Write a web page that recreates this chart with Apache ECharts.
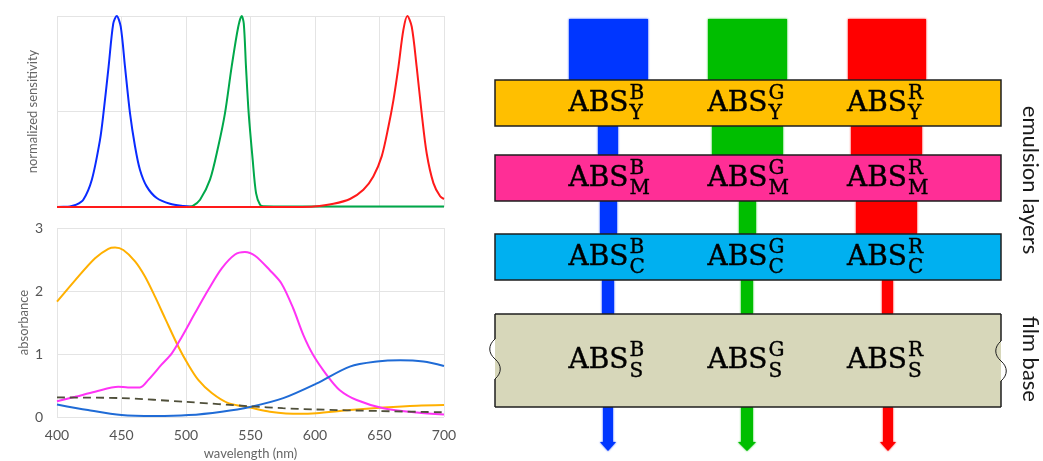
<!DOCTYPE html>
<html><head><meta charset="utf-8">
<script src="https://cdn.jsdelivr.net/npm/echarts@6/dist/echarts.min.js"></script>
<style>html,body{margin:0;padding:0;background:#fff}#c{width:1043px;height:461px}</style>
</head><body><div id="c"></div>
<script>
// ---- data ----
const wlTicks = [400, 450, 500, 550, 600, 650, 700];
const absTicks = [0, 1, 2, 3];

// top panel: normalized sensitivity
const sensWlBlue = [400,405,410,415,420.4,427,433.3,436,440,443.6,446.3,449.4,452.7,456.6,460.5,464.3,469.5,477.3,487.6,498,505];
const sensBlue   = [0,0.001,0.003,0.012,0.038,0.143,0.35,0.49,0.735,0.96,1.0,0.944,0.735,0.49,0.317,0.195,0.108,0.047,0.017,0.005,0.001];
const sensWlGreen = [500,505,510.9,518.6,525,530.2,535.4,540.5,543.2,544.8,546.5,548.6,551.7,554.3,557.4,560,580,700];
const sensGreen   = [0,0.005,0.038,0.143,0.317,0.49,0.735,0.944,1.0,0.96,0.735,0.49,0.247,0.073,0.012,0.004,0.003,0.003];
const sensWlRed = [400,500,590,599,614.3,627.1,637.5,645.2,651.7,656.9,660.8,664.7,668.5,671.6,675,678.8,682.7,686.6,691.8,697,700];
const sensRed   = [0,0,0,0.002,0.017,0.042,0.09,0.16,0.265,0.42,0.56,0.735,0.927,1.0,0.944,0.735,0.49,0.28,0.125,0.056,0.042];

// bottom panel: absorbance
const absWlYellow = [400,414,429.5,439.8,445,451.4,460.5,468.2,476,483.7,494,501.8,509.5,520,532.8,549.6,565,588,601,627,653,679,700];
const absYellow   = [1.83,2.17,2.52,2.67,2.69,2.65,2.47,2.23,1.91,1.57,1.12,0.83,0.59,0.38,0.22,0.15,0.085,0.05,0.06,0.11,0.15,0.18,0.19];
const absWlMagenta = [400,414,429.5,447.5,455,464.3,470.8,481,489,496.7,507,517.3,527.7,538,545.7,553.5,565,574,583,591,598.7,609,619,632.3,653,679,700];
const absMagenta   = [0.25,0.32,0.40,0.48,0.47,0.47,0.59,0.83,1.01,1.27,1.65,2.02,2.36,2.58,2.62,2.56,2.33,2.12,1.73,1.30,0.98,0.67,0.43,0.27,0.14,0.07,0.04];
const absWlCyan = [400,424,450,476,502,527.7,549.6,575.4,601,627,648,666,684,700];
const absCyan   = [0.20,0.11,0.03,0.015,0.03,0.085,0.16,0.30,0.53,0.80,0.88,0.90,0.88,0.81];
const absWlBase = [400,450,500,550,575,600,650,700];
const absBase   = [0.31,0.30,0.24,0.17,0.14,0.12,0.095,0.075];

// diagram labels
const channels = ['B', 'G', 'R'];
const layerSubs = ['Y', 'M', 'C', 'S'];
const sideLabels = ['emulsion layers', 'film base'];

// ---- helpers ----
const zip = (xs, ys) => xs.map((x, i) => [x, ys[i]]);
const chart = echarts.init(document.getElementById('c'), null, {renderer: 'canvas'});
const FONT = 'Lato, "Open Sans", sans-serif';
const gridLine = {show: true, lineStyle: {color: '#e4e4e4', width: 1}};

function lineSeries(name, xi, yi, data, color, extra) {
  return Object.assign({
    name, type: 'line', xAxisIndex: xi, yAxisIndex: yi, data,
    smooth: 0.3, showSymbol: false, symbol: 'none',
    lineStyle: {color, width: 2}, z: 3
  }, extra || {});
}

// ---- diagram graphics ----
const colCenters = [608.5, 747.5, 887];
const bandColors = ['#0036FF', '#00BE00', '#FF0000'];
const bandX = [
  [[569,648],[598,618],[600,617],[602,614]],
  [[708,787],[712,783],[739,756],[741,753]],
  [[848,926],[851,922],[856,917],[882,893]]
];
const gapY = [[19,80],[126,155],[201,234],[280,314]];
const arrowX = [[603,613],[741,753],[883,893]];
const layers = [
  {y: 80, h: 46, fill: '#FFBF00'},
  {y: 155, h: 46, fill: '#FF2E96'},
  {y: 234, h: 46, fill: '#00B0F0'},
  {y: 314, h: 93, fill: '#D7D7BA'}
];
const LX0 = 495, LX1 = 1001;
const g = [];
bandColors.forEach((c, ci) => {
  bandX[ci].forEach((xr, gi) => {
    g.push({type: 'rect', shape: {x: xr[0], y: gapY[gi][0], width: xr[1]-xr[0], height: gapY[gi][1]-gapY[gi][0]},
      style: {fill: c, shadowBlur: 2, shadowColor: c}, z: 1});
  });
  const a = arrowX[ci];
  const cx = (a[0]+a[1])/2;
  g.push({type: 'polygon', shape: {points: [[a[0],407],[a[1],407],[a[1],442],[a[1]+3,442],[cx,451],[a[0]-3,442],[a[0],442]]},
    style: {fill: c, shadowBlur: 2, shadowColor: c}, z: 1});
});
const serifMain = '28px "DejaVu Serif", serif';
const serifSmall = '20px "DejaVu Serif", serif';
layers.forEach((L, li) => {
  const isBase = li === 3;
  g.push({type: 'rect', shape: {x: LX0, y: L.y, width: LX1-LX0, height: L.h},
    style: {fill: L.fill, stroke: isBase ? null : '#1e1e1e', lineWidth: 1.5}, z: 2});
  const cy = L.y + L.h/2;
  channels.forEach((ch, ci) => {
    const cx = colCenters[ci];
    const txt = (text, x, y, font, align) => ({type: 'text', x, y, z: 5,
      style: {text, font, fill: '#000', stroke: '#000', lineWidth: 0.4,
        align, textAlign: align, verticalAlign: 'middle', textVerticalAlign: 'middle'}});
    g.push(txt('ABS', cx + 20, cy + 0.5, serifMain, 'right'));
    g.push(txt(ch, cx + 21, cy - 9.5, serifSmall, 'left'));
    g.push(txt(layerSubs[li], cx + 21, cy + 11, serifSmall, 'left'));
  });
});
// film base borders with wave breaks
const bStroke = {stroke: '#1e1e1e', lineWidth: 1.5, fill: null};
g.push({type: 'line', shape: {x1: LX0, y1: 314, x2: LX1, y2: 314}, style: bStroke, z: 3});
g.push({type: 'line', shape: {x1: LX0, y1: 407, x2: LX1, y2: 407}, style: bStroke, z: 3});
g.push({type: 'line', shape: {x1: LX0, y1: 314, x2: LX0, y2: 339}, style: bStroke, z: 3});
g.push({type: 'line', shape: {x1: LX0, y1: 379, x2: LX0, y2: 407}, style: bStroke, z: 3});
g.push({type: 'line', shape: {x1: LX1, y1: 314, x2: LX1, y2: 341}, style: bStroke, z: 3});
g.push({type: 'line', shape: {x1: LX1, y1: 381, x2: LX1, y2: 407}, style: bStroke, z: 3});
function wave(x, y0, y1) {
  const m = (y0 + y1) / 2, q = (y1 - y0) / 4;
  const w = {stroke: '#1e1e1e', lineWidth: 1, fill: null};
  g.push({type: 'bezierCurve', shape: {x1: x, y1: y0, cpx1: x-7, cpy1: y0+q*0.6, cpx2: x-7, cpy2: m-q*0.6, x2: x, y2: m}, style: w, z: 3});
  g.push({type: 'bezierCurve', shape: {x1: x, y1: m, cpx1: x+7, cpy1: m+q*0.6, cpx2: x+7, cpy2: y1-q*0.6, x2: x, y2: y1}, style: w, z: 3});
}
wave(LX0, 339, 379);
wave(LX1, 341, 381);
// side labels
g.push({type: 'text', x: 1030, y: 180, rotation: -Math.PI/2, z: 5,
  style: {text: sideLabels[0], font: '22px Lato, sans-serif', fill: '#1a1a1a',
    align: 'center', textAlign: 'center', verticalAlign: 'middle', textVerticalAlign: 'middle'}});
g.push({type: 'text', x: 1030, y: 359, rotation: -Math.PI/2, z: 5,
  style: {text: sideLabels[1], font: '22px Lato, sans-serif', fill: '#1a1a1a',
    align: 'center', textAlign: 'center', verticalAlign: 'middle', textVerticalAlign: 'middle'}});

const option = {
  animation: false,
  backgroundColor: '#fff',
  textStyle: {fontFamily: FONT},
  grid: [
    {left: 57, width: 387, top: 16, height: 191},
    {left: 57, width: 387, top: 228, height: 189}
  ],
  xAxis: [
    {gridIndex: 0, type: 'value', min: wlTicks[0], max: wlTicks[wlTicks.length-1], interval: 50,
      axisLine: {show: false}, axisTick: {show: false}, axisLabel: {show: false}, splitLine: gridLine},
    {gridIndex: 1, type: 'value', min: wlTicks[0], max: wlTicks[wlTicks.length-1], interval: 50,
      axisLine: {show: false}, axisTick: {show: false},
      axisLabel: {color: '#555', fontSize: 14, fontFamily: FONT, margin: 11,
        formatter: v => wlTicks.includes(v) ? String(v) : ''},
      splitLine: gridLine,
      name: 'wavelength (nm)', nameLocation: 'middle', nameGap: 30,
      nameTextStyle: {color: '#666', fontSize: 13, fontFamily: FONT}}
  ],
  yAxis: [
    {gridIndex: 0, type: 'value', min: 0, max: 1, interval: 0.5,
      axisLine: {show: false}, axisTick: {show: false}, axisLabel: {show: false}, splitLine: gridLine,
      name: 'normalized sensitivity', nameLocation: 'middle', nameGap: 18,
      nameTextStyle: {color: '#666', fontSize: 13, fontFamily: FONT}},
    {gridIndex: 1, type: 'value', min: absTicks[0], max: absTicks[absTicks.length-1], interval: 1,
      axisLine: {show: false}, axisTick: {show: false},
      axisLabel: {color: '#555', fontSize: 14, fontFamily: FONT, margin: 14},
      splitLine: gridLine,
      name: 'absorbance', nameLocation: 'middle', nameGap: 27,
      nameTextStyle: {color: '#666', fontSize: 13, fontFamily: FONT}}
  ],
  series: [
    lineSeries('blue sensitivity', 0, 0, zip(sensWlBlue, sensBlue), '#0A2BFF'),
    lineSeries('green sensitivity', 0, 0, zip(sensWlGreen, sensGreen), '#00A84A'),
    lineSeries('red sensitivity', 0, 0, zip(sensWlRed, sensRed), '#FF1A1A'),
    lineSeries('yellow dye', 1, 1, zip(absWlYellow, absYellow), '#FFB000'),
    lineSeries('magenta dye', 1, 1, zip(absWlMagenta, absMagenta), '#FF33F5'),
    lineSeries('cyan dye', 1, 1, zip(absWlCyan, absCyan), '#1F6BD6'),
    lineSeries('film base', 1, 1, zip(absWlBase, absBase), '#4F4F3A', {lineStyle: {color: '#4F4F3A', width: 1.8, type: [8, 5]}})
  ],
  graphic: {elements: g}
};
chart.setOption(option);
</script></body></html>
